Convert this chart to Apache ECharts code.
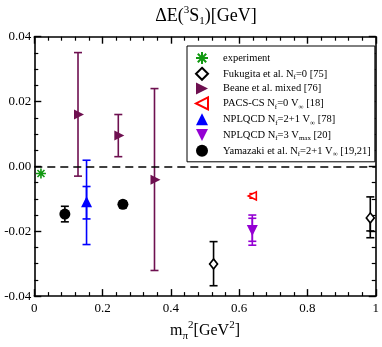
<!DOCTYPE html>
<html>
<head>
<meta charset="utf-8">
<script src="https://cdn.jsdelivr.net/npm/echarts@6/dist/echarts.min.js"></script>
<style>
  html, body { margin: 0; padding: 0; background: #fff; }
  #main { width: 382px; height: 347px; }
</style>
</head>
<body>
<div id="main"></div>
<script>
var FONT = 'Liberation Serif';

// x: m_pi^2 [GeV^2], y: binding energy [GeV]
var expX = [0.0195];
var expY = [-0.0022];

var fukX = [0.525, 0.984];
var fukY = [-0.0301, -0.0159];
var fukLo = [-0.0368, -0.0220];
var fukHi = [-0.0232, -0.0094];
var fukStatLo = [-0.0301, -0.0199];
var fukStatHi = [-0.0301, -0.0159];

var beaneX = [0.128, 0.246, 0.352];
var beaneY = [0.0160, 0.0095, -0.0041];
var beaneLo = [-0.0030, 0.0030, -0.0321];
var beaneHi = [0.0351, 0.0160, 0.0240];

var pacsX = [0.6385];
var pacsY = [-0.0091];
var pacsLo = [-0.0098];
var pacsHi = [-0.0084];

var npl21X = [0.153];
var npl21Y = [-0.0109];
var npl21Lo = [-0.0241];
var npl21Hi = [0.0019];
var npl21StatLo = [-0.0162];
var npl21StatHi = [-0.0062];

var npl3X = [0.6385];
var npl3Y = [-0.0198];
var npl3Lo = [-0.0243];
var npl3Hi = [-0.0150];
var npl3StatLo = [-0.0231];
var npl3StatHi = [-0.0160];

var yamX = [0.0895, 0.2595];
var yamY = [-0.0147, -0.0117];
var yamLo = [-0.0171, -0.0127];
var yamHi = [-0.0123, -0.0107];

var xTicks = [0, 0.2, 0.4, 0.6, 0.8, 1];
var yTicks = [-0.04, -0.02, 0, 0.02, 0.04];

// legend labels with sub/superscripts (rich text)
var legendRich = {
  'experiment': '{f|experiment}',
  'Fukugita et al. Nf=0 [75]': '{f|Fukugita et al. N}{sub|f}{n|=0 [75]}',
  'Beane et al. mixed [76]': '{f|Beane et al. mixed [76]}',
  'PACS-CS Nf=0 V∞ [18]': '{f|PACS-CS N}{sub|f}{n|=0 V}{sub|∞}{n| [18]}',
  'NPLQCD Nf=2+1 V∞ [78]': '{f|NPLQCD N}{sub|f}{n|=2+1 V}{sub|∞}{n| [78]}',
  'NPLQCD Nf=3 Vmax [20]': '{f|NPLQCD N}{sub|f}{n|=3 V}{sub|max}{n| [20]}',
  'Yamazaki et al. Nf=2+1 V∞ [19,21]': '{f|Yamazaki et al. N}{sub|f}{n|=2+1 V}{sub|∞}{n| [19,21]}'
};

function zip(xs, ys) {
  return xs.map(function (x, i) { return [x, ys[i]]; });
}
function zip3(xs, lo, hi) {
  return xs.map(function (x, i) { return [x, lo[i], hi[i]]; });
}

// vertical error bar with caps
function errSeries(name, xs, lo, hi, color, capHalf) {
  return {
    name: name,
    type: 'custom',
    z: 2,
    silent: true,
    data: zip3(xs, lo, hi),
    encode: { x: 0, y: [1, 2] },
    renderItem: function (params, api) {
      var x = api.value(0);
      var a = api.coord([x, api.value(1)]);
      var b = api.coord([x, api.value(2)]);
      var st = { stroke: color, lineWidth: 1.6, fill: null };
      return {
        type: 'group',
        children: [
          { type: 'line', shape: { x1: a[0], y1: a[1], x2: b[0], y2: b[1] }, style: st },
          { type: 'line', shape: { x1: a[0] - capHalf, y1: a[1], x2: a[0] + capHalf, y2: a[1] }, style: st },
          { type: 'line', shape: { x1: b[0] - capHalf, y1: b[1], x2: b[0] + capHalf, y2: b[1] }, style: st }
        ]
      };
    }
  };
}

var axisCommon = {
  type: 'value',
  axisLine: { show: true, onZero: false, lineStyle: { color: '#000', width: 1.6 } },
  axisTick: { show: true, inside: true, length: 7, lineStyle: { color: '#000', width: 1.4 } },
  minorTick: { show: true, length: 4, lineStyle: { color: '#000', width: 1.2 } },
  splitLine: { show: false },
  minorSplitLine: { show: false }
};

function xAxisDef(pos, showLabel) {
  return Object.assign({}, axisCommon, {
    position: pos,
    min: 0, max: 1, interval: 0.2,
    minorTick: Object.assign({}, axisCommon.minorTick, { splitNumber: 5 }),
    axisLabel: {
      show: showLabel, color: '#000', fontFamily: FONT, fontSize: 13, margin: 6,
      formatter: function (v) { return (v === 0 || v === 1) ? String(v) : v.toFixed(1); }
    }
  });
}
function yAxisDef(pos, showLabel) {
  return Object.assign({}, axisCommon, {
    position: pos,
    min: -0.04, max: 0.04, interval: 0.02,
    minorTick: Object.assign({}, axisCommon.minorTick, { splitNumber: 4 }),
    axisLabel: {
      show: showLabel, color: '#000', fontFamily: FONT, fontSize: 13, margin: 3,
      formatter: function (v) { return (Math.abs(v) < 1e-9 ? 0 : v).toFixed(2); }
    }
  });
}

var xBottom = xAxisDef('bottom', true);
xBottom.name = '{n|m}{sub|π}{sup|2}{n|[GeV}{sup|2}{n|]}';
xBottom.nameLocation = 'middle';
xBottom.nameGap = 22;
xBottom.nameTextStyle = {
  color: '#000', fontFamily: FONT,
  rich: {
    n: { fontSize: 16, lineHeight: 22, fontFamily: FONT, color: '#000' },
    sub: { fontSize: 11, lineHeight: 11, padding: [11, 0, 0, 0], fontFamily: FONT, color: '#000' },
    sup: { fontSize: 11, lineHeight: 11, padding: [0, 0, 11, 0], fontFamily: FONT, color: '#000' }
  }
};

var dom = document.getElementById('main');
var myChart = echarts.init(dom, null, { renderer: 'canvas' });

var option = {
  backgroundColor: '#fff',
  animation: false,
  title: {
    text: '{n|ΔE(}{sup|3}{n|S}{sub|1}{n|)[GeV]}',
    left: 206,
    top: 5,
    textAlign: 'center',
    padding: 0,
    textStyle: {
      fontFamily: FONT, color: '#000', fontWeight: 'normal',
      rich: {
        n: { fontSize: 18, lineHeight: 22, fontFamily: FONT, fontWeight: 'normal', color: '#000' },
        sup: { fontSize: 11, lineHeight: 11, padding: [0, 0, 11, 0], fontFamily: FONT, fontWeight: 'normal', color: '#000' },
        sub: { fontSize: 11, lineHeight: 11, padding: [11, 0, 0, 0], fontFamily: FONT, fontWeight: 'normal', color: '#000' }
      }
    }
  },
  grid: { left: 34.3, right: 4.7, top: 36.7, bottom: 47, containLabel: false },
  legend: {
    orient: 'vertical',
    left: 187,
    top: 46,
    padding: [5, 4, 4, 8],
    itemWidth: 12,
    itemHeight: 12,
    itemGap: 1.8,
    borderColor: '#000',
    borderWidth: 1,
    borderRadius: 0,
    backgroundColor: '#fff',
    selectedMode: false,
    data: ['experiment', 'Fukugita et al. Nf=0 [75]', 'Beane et al. mixed [76]',
      'PACS-CS Nf=0 V∞ [18]', 'NPLQCD Nf=2+1 V∞ [78]', 'NPLQCD Nf=3 Vmax [20]',
      'Yamazaki et al. Nf=2+1 V∞ [19,21]'],
    formatter: function (name) { return legendRich[name]; },
    textStyle: {
      color: '#000', fontFamily: FONT,
      rich: {
        f: { fontSize: 10.5, lineHeight: 14, padding: [0, 0, 0, 10], fontFamily: FONT, color: '#000' },
        n: { fontSize: 10.5, lineHeight: 14, fontFamily: FONT, color: '#000' },
        sub: { fontSize: 7, lineHeight: 7, padding: [7, 0, 0, 0], fontFamily: FONT, color: '#000' }
      }
    }
  },
  xAxis: [xBottom, xAxisDef('top', false)],
  yAxis: [yAxisDef('left', true), yAxisDef('right', false)],
  series: [
    errSeries('err-fuk', fukX, fukLo, fukHi, '#000', 4),
    errSeries('err-fuk-stat', fukX, fukStatLo, fukStatHi, '#000', 4),
    errSeries('err-beane', beaneX, beaneLo, beaneHi, '#6e1050', 4),
    errSeries('err-pacs', pacsX, pacsLo, pacsHi, '#ff0000', 3),
    errSeries('err-npl21', npl21X, npl21Lo, npl21Hi, '#0000ff', 4),
    errSeries('err-npl21-stat', npl21X, npl21StatLo, npl21StatHi, '#0000ff', 4),
    errSeries('err-npl3', npl3X, npl3Lo, npl3Hi, '#9400d3', 4),
    errSeries('err-npl3-stat', npl3X, npl3StatLo, npl3StatHi, '#9400d3', 4),
    errSeries('err-yam', yamX, yamLo, yamHi, '#000', 4),
    {
      name: 'experiment',
      type: 'scatter',
      z: 5,
      data: zip(expX, expY),
      symbol: 'path://M5,0L5,10M0,5L10,5M1.5,1.5L8.5,8.5M1.5,8.5L8.5,1.5',
      symbolSize: 10,
      itemStyle: { color: '#119911', borderColor: '#119911', borderWidth: 1.6, opacity: 1 },
      markLine: {
        silent: true,
        symbol: 'none',
        label: { show: false },
        lineStyle: { type: [8, 5], color: '#000', width: 1.6 },
        data: [{ yAxis: 0 }]
      }
    },
    {
      name: 'Fukugita et al. Nf=0 [75]',
      type: 'scatter',
      z: 5,
      data: zip(fukX, fukY),
      symbol: 'diamond',
      symbolSize: [8, 10],
      itemStyle: { color: '#fff', borderColor: '#000', borderWidth: 1.6, opacity: 1 }
    },
    {
      name: 'Beane et al. mixed [76]',
      type: 'scatter',
      z: 5,
      data: zip(beaneX, beaneY),
      symbol: 'path://M0,0L10,5L0,10Z',
      symbolSize: 10,
      symbolOffset: [1, 0],
      itemStyle: { color: '#6e1050', opacity: 1 }
    },
    {
      name: 'PACS-CS Nf=0 V∞ [18]',
      type: 'scatter',
      z: 5,
      data: zip(pacsX, pacsY),
      symbol: 'path://M10,0L0,5L10,10Z',
      symbolSize: 8,
      itemStyle: { color: '#fff', borderColor: '#ff0000', borderWidth: 1.6, opacity: 1 }
    },
    {
      name: 'NPLQCD Nf=2+1 V∞ [78]',
      type: 'scatter',
      z: 5,
      data: zip(npl21X, npl21Y),
      symbol: 'triangle',
      symbolSize: 11,
      itemStyle: { color: '#0000ff', opacity: 1 }
    },
    {
      name: 'NPLQCD Nf=3 Vmax [20]',
      type: 'scatter',
      z: 5,
      data: zip(npl3X, npl3Y),
      symbol: 'path://M0,0L10,0L5,10Z',
      symbolSize: 11,
      itemStyle: { color: '#9400d3', opacity: 1 }
    },
    {
      name: 'Yamazaki et al. Nf=2+1 V∞ [19,21]',
      type: 'scatter',
      z: 5,
      data: zip(yamX, yamY),
      symbol: 'circle',
      symbolSize: 11,
      itemStyle: { color: '#000', opacity: 1 }
    }
  ]
};

if (option && typeof option === 'object') {
  myChart.setOption(option, true);
}
</script>
</body>
</html>
